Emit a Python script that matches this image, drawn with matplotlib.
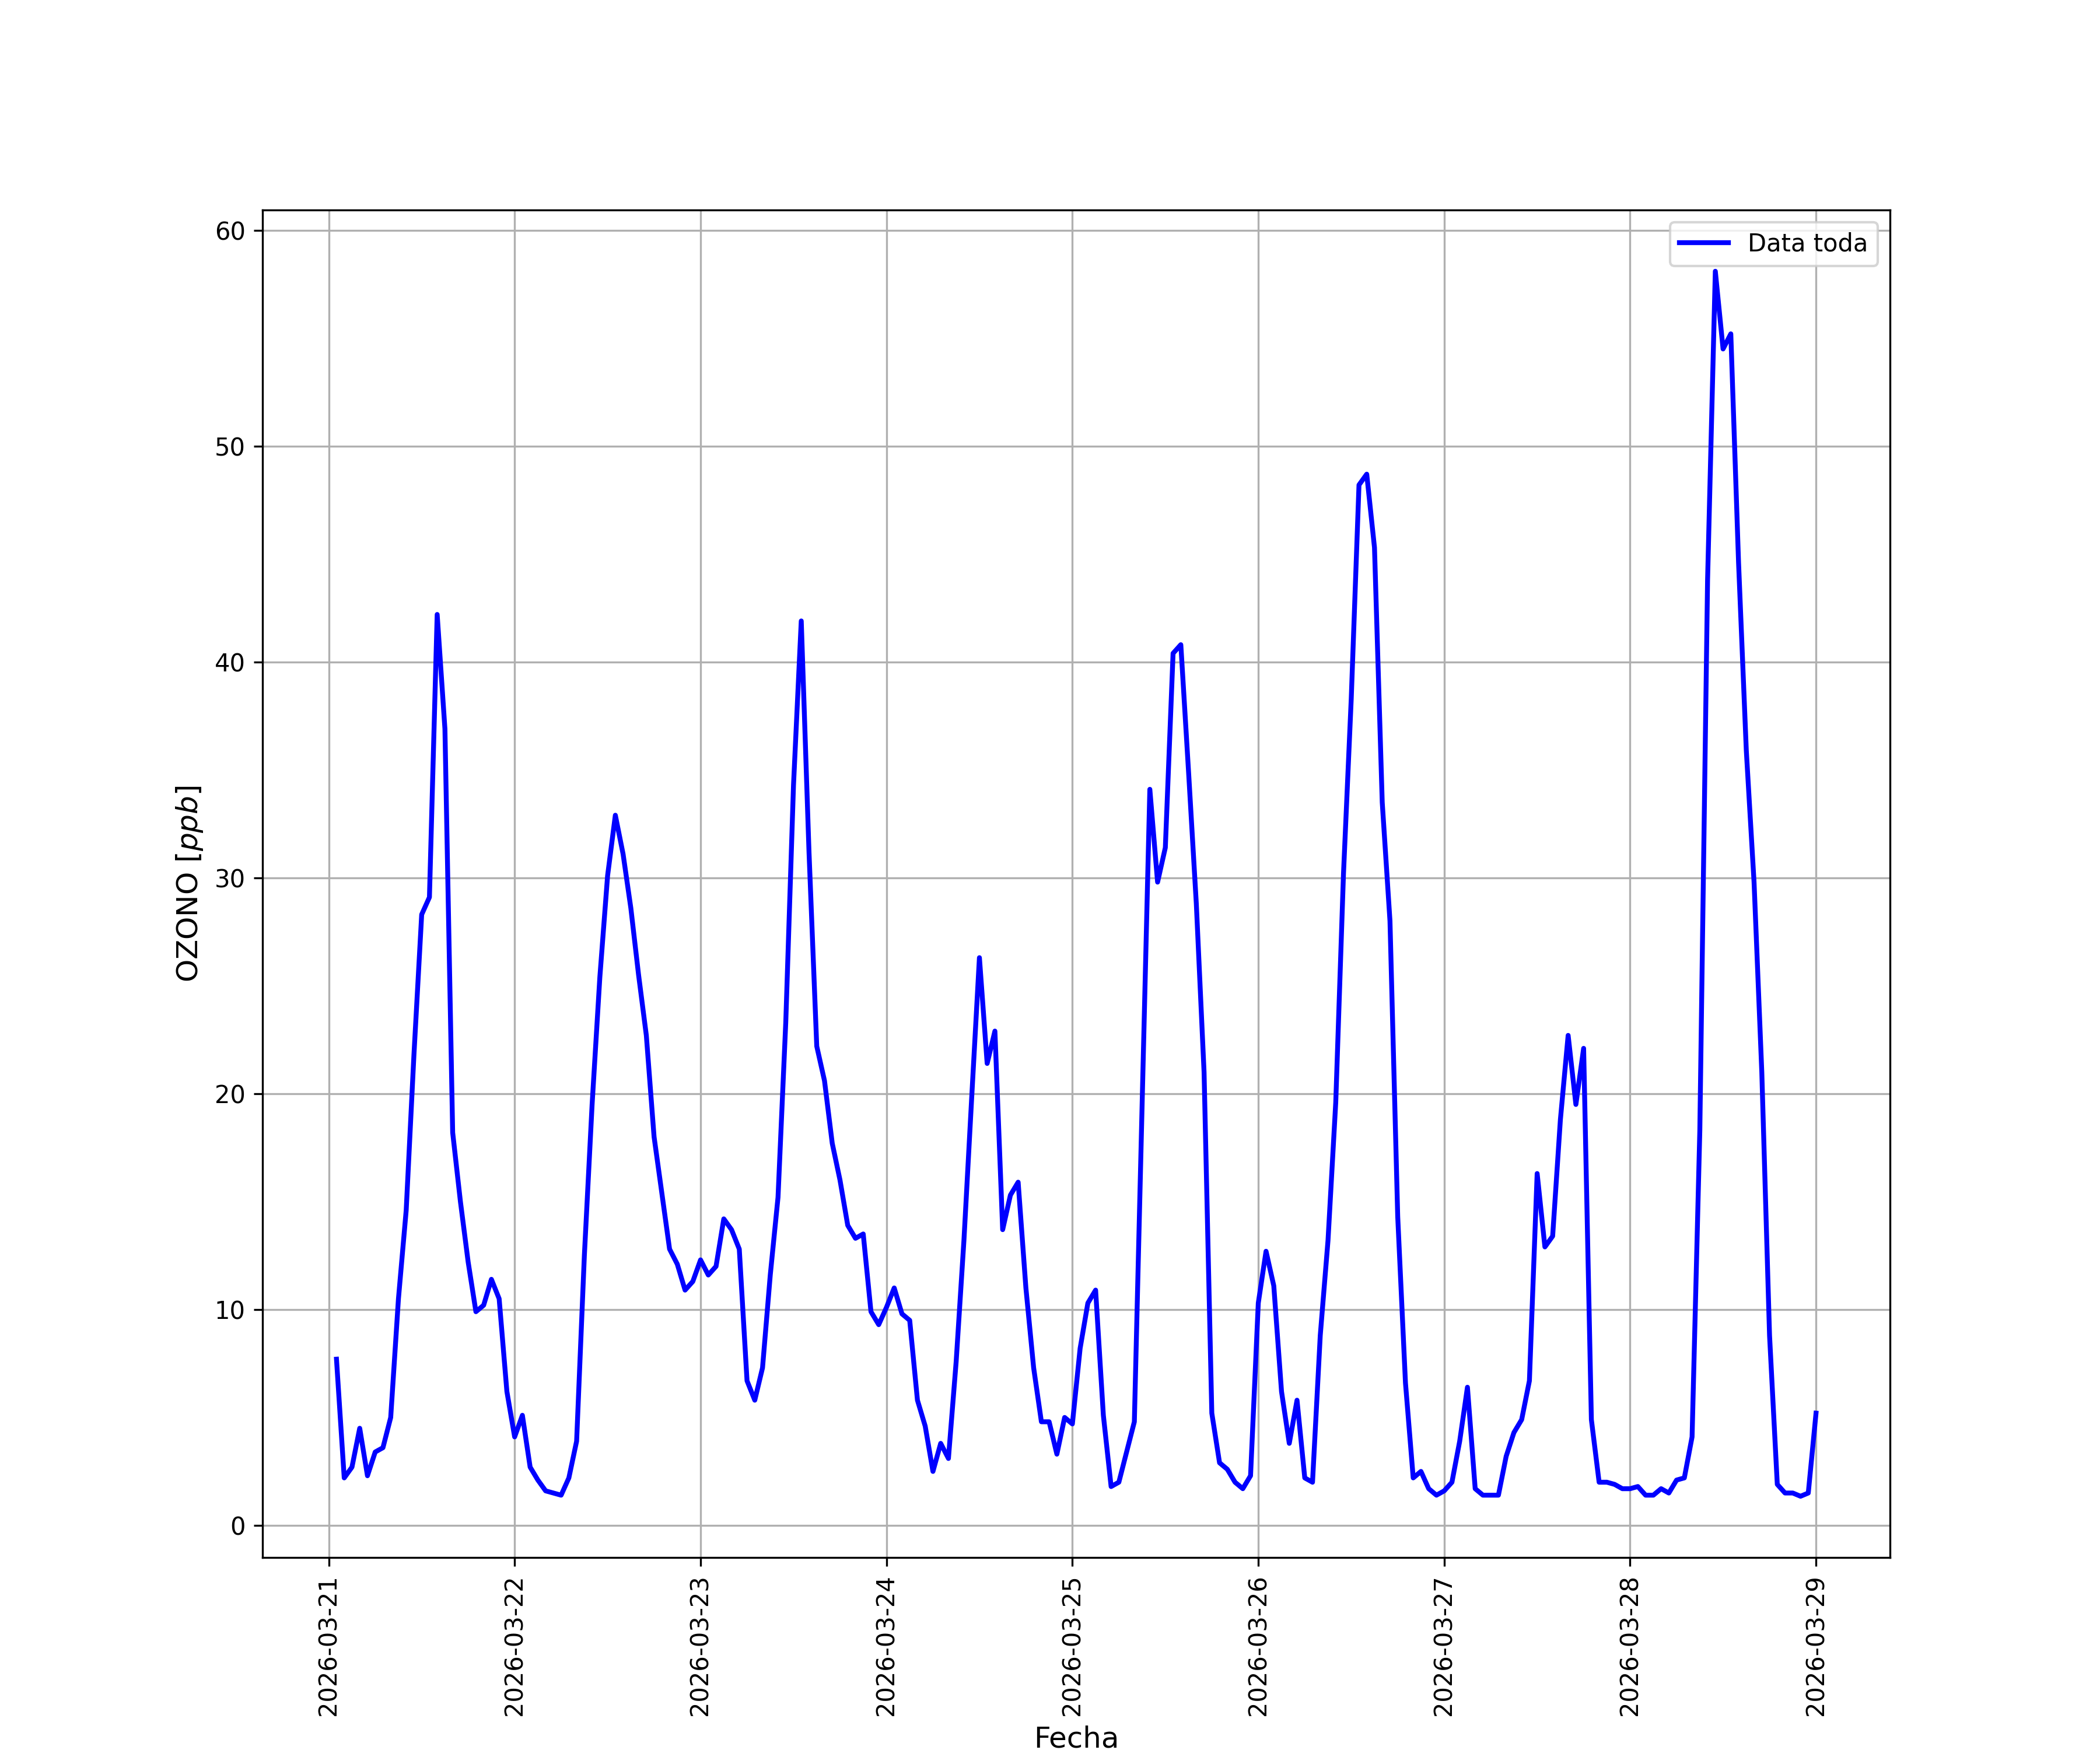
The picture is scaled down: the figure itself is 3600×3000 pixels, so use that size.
import matplotlib
matplotlib.use("Agg")
import matplotlib.pyplot as plt
import pandas as pd

start = "2026-03-21 01:00"
n_hours = 192
label_series = "Data toda"
xlabel = "Fecha"
ylabel = "OZONO [$ppb$]"

ozono = [
    # 2026-03-21
    7.7, 2.2, 2.7, 4.5, 2.3, 3.4, 3.6, 5.0, 10.5, 14.6, 21.8, 28.3,
    29.1, 42.2, 36.9, 18.2, 15.0, 12.2, 9.9, 10.2, 11.4, 10.5, 6.2, 4.1,
    # 2026-03-22
    5.1, 2.7, 2.1, 1.6, 1.5, 1.4, 2.2, 3.9, 12.5, 19.5, 25.4, 30.1,
    32.9, 31.1, 28.6, 25.5, 22.7, 18.0, 15.4, 12.8, 12.1, 10.9, 11.3, 12.3,
    # 2026-03-23
    11.6, 12.0, 14.2, 13.7, 12.8, 6.7, 5.8, 7.3, 11.6, 15.2, 23.3, 34.3,
    41.9, 31.2, 22.2, 20.6, 17.7, 16.0, 13.9, 13.3, 13.5, 9.9, 9.3, 10.1,
    # 2026-03-24
    11.0, 9.8, 9.5, 5.8, 4.6, 2.5, 3.8, 3.1, 7.6, 13.2, 19.8, 26.3,
    21.4, 22.9, 13.7, 15.3, 15.9, 11.0, 7.3, 4.8, 4.8, 3.3, 5.0, 4.7,
    # 2026-03-25
    8.2, 10.3, 10.9, 5.1, 1.8, 2.0, 3.4, 4.8, 19.5, 34.1, 29.8, 31.4,
    40.4, 40.8, 34.9, 28.8, 21.0, 5.2, 2.9, 2.6, 2.0, 1.7, 2.3, 10.3,
    # 2026-03-26
    12.7, 11.1, 6.2, 3.8, 5.8, 2.2, 2.0, 8.8, 13.2, 19.6, 30.2, 38.3,
    48.2, 48.7, 45.3, 33.5, 28.0, 14.3, 6.6, 2.2, 2.5, 1.7, 1.4, 1.6,
    # 2026-03-27
    2.0, 3.9, 6.4, 1.7, 1.4, 1.4, 1.4, 3.2, 4.3, 4.9, 6.7, 16.3,
    12.9, 13.4, 18.8, 22.7, 19.5, 22.1, 4.9, 2.0, 2.0, 1.9, 1.7, 1.7,
    # 2026-03-28
    1.8, 1.4, 1.4, 1.7, 1.5, 2.1, 2.2, 4.1, 18.3, 43.8, 58.1, 54.5,
    55.2, 44.6, 35.9, 29.8, 21.0, 8.8, 1.9, 1.5, 1.5, 1.35, 1.5, 5.2,
]

fechas = pd.date_range(start=start, periods=n_hours, freq="h")

fig, ax = plt.subplots(figsize=(12, 10), dpi=300)
ax.plot(fechas, ozono, color="blue", linewidth=2, label=label_series)
ax.set_xlabel(xlabel, fontsize=12)
ax.set_ylabel(ylabel, fontsize=12)
ax.grid(True)
ax.legend(loc="upper right")
for lbl in ax.get_xticklabels():
    lbl.set_rotation(90)
fig.savefig("out.png", dpi=300)
